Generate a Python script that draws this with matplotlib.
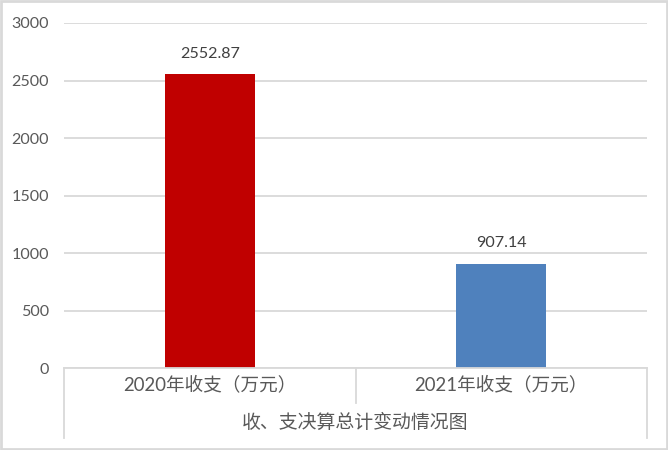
import matplotlib.pyplot as plt
from matplotlib.patches import Rectangle
from matplotlib.lines import Line2D

plt.rcParams['font.family'] = ['Lato', 'Noto Sans CJK SC', 'DejaVu Sans']

categories = ["2020年收支（万元）", "2021年收支（万元）"]
values = [2552.87, 907.14]
value_labels = ["2552.87", "907.14"]
group_label = "收、支决算总计变动情况图"
bar_colors = ['#C00000', '#4F81BD']
yticks = [0, 500, 1000, 1500, 2000, 2500, 3000]

grid_col = '#D9D9D9'
text_col = '#595959'

fig = plt.figure(figsize=(6.68, 4.5), dpi=100)
ax = fig.add_axes([64 / 668, 1 - 368 / 450, 583 / 668, 345 / 450])

x = list(range(len(categories)))
ax.bar(x, values, width=0.31, color=bar_colors, zorder=3)

for xi, v, lab in zip(x, values, value_labels):
    ax.annotate(lab, (xi, v), xytext=(0, 10), textcoords='offset points',
                ha='center', va='bottom', fontsize=11.6, color='#404040')

ax.set_xlim(-0.5, len(categories) - 0.5)
ax.set_ylim(0, 3000)
ax.set_yticks(yticks)
ax.set_yticklabels([str(t) for t in yticks])
ax.tick_params(axis='y', length=0, pad=11, labelsize=11.6, labelcolor=text_col)
ax.set_xticks([])
ax.grid(axis='y', color=grid_col, linewidth=1.3, zorder=0)
for s in ax.spines.values():
    s.set_visible(False)

# multi-level category axis below the plot
trans = ax.get_xaxis_transform()
row1 = -(403 - 368) / 345
row2 = -(438 - 368) / 345
ax.add_line(Line2D([-0.5, len(categories) - 0.5], [0, 0], transform=trans,
                   color=grid_col, lw=1.3, clip_on=False, zorder=4))
for xb in [-0.5, len(categories) - 0.5]:
    ax.add_line(Line2D([xb, xb], [0, row2], transform=trans,
                       color=grid_col, lw=1.3, clip_on=False))
for xb in [i + 0.5 for i in range(len(categories) - 1)]:
    ax.add_line(Line2D([xb, xb], [0, row1], transform=trans,
                       color=grid_col, lw=1.3, clip_on=False))
for xi, cat in zip(x, categories):
    ax.text(xi, row1 / 2 + 0.005, cat, transform=trans, ha='center', va='center',
            fontsize=13.4, color=text_col)
ax.text((len(categories) - 1) / 2, (row1 + row2) / 2 - 0.005, group_label,
        transform=trans, ha='center', va='center', fontsize=13.6, color=text_col)

fig.patches.append(Rectangle((0.002, 0.003), 0.996, 0.994, transform=fig.transFigure,
                             fill=False, edgecolor=grid_col, lw=2))

fig.savefig('out.png', dpi=100)
